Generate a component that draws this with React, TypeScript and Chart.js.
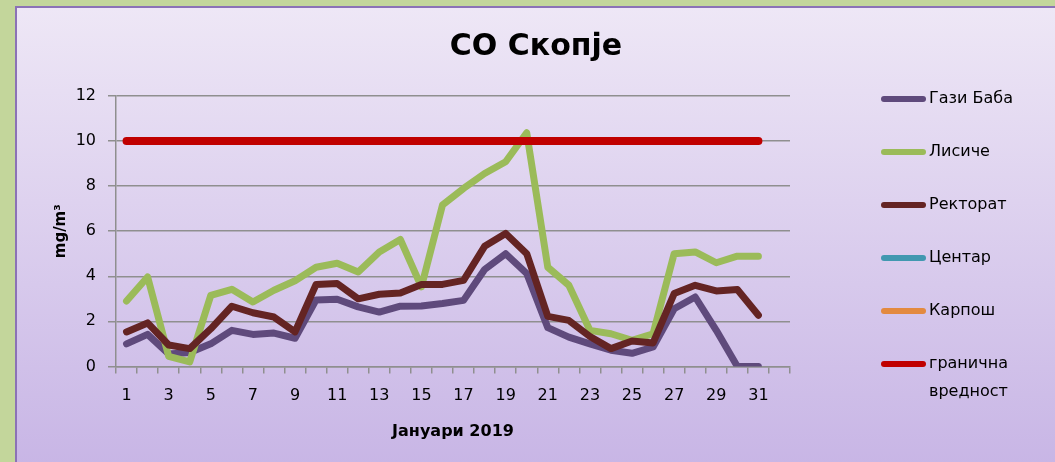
import React, { useEffect, useRef } from 'react';
import { Chart, registerables } from 'chart.js';

Chart.register(...registerables);

const FONT = "'Comic Sans MS', 'DejaVu Sans', sans-serif";

const TITLE = 'СО Скопје';
const X_TITLE = 'Јануари 2019';
const Y_TITLE = 'mg/m³';

const days = ['1', '2', '3', '4', '5', '6', '7', '8', '9', '10', '11', '12', '13', '14', '15', '16',
  '17', '18', '19', '20', '21', '22', '23', '24', '25', '26', '27', '28', '29', '30', '31', ''];

const seriesNames = ['Гази Баба', 'Лисиче', 'Ректорат', 'Центар', 'Карпош', 'гранична вредност'];
const seriesColors = ['#5F4A7C', '#9BBB59', '#642423', '#4198B0', '#E38A3F', '#C00000'];

const gaziBaba = [1.0, 1.42, 0.55, 0.62, 1.0, 1.6, 1.42, 1.48, 1.25, 2.95, 2.98, 2.64, 2.41, 2.67, 2.68, 2.79,
  2.93, 4.3, 5.0, 4.12, 1.72, 1.3, 1.0, 0.72, 0.58, 0.86, 2.56, 3.08, 1.6, 0, 0];
const lisiche = [2.9, 3.97, 0.45, 0.2, 3.15, 3.42, 2.86, 3.38, 3.8, 4.4, 4.58, 4.19, 5.08, 5.63, 3.53, 7.16,
  7.9, 8.56, 9.08, 10.37, 4.4, 3.6, 1.6, 1.45, 1.16, 1.45, 5.0, 5.08, 4.6, 4.89, 4.89];
const rektorat = [1.53, 1.93, 0.95, 0.79, 1.67, 2.67, 2.38, 2.19, 1.53, 3.64, 3.68, 3.0, 3.2, 3.26, 3.63, 3.64,
  3.82, 5.33, 5.9, 5.0, 2.22, 2.04, 1.33, 0.79, 1.13, 1.04, 3.23, 3.6, 3.35, 3.41, 2.27];
const centar: number[] = [];
const karposh: number[] = [];
const limitValue = [10, 10, 10, 10, 10, 10, 10, 10, 10, 10, 10, 10, 10, 10, 10, 10,
  10, 10, 10, 10, 10, 10, 10, 10, 10, 10, 10, 10, 10, 10, 10];

const seriesData = [gaziBaba, lisiche, rektorat, centar, karposh, limitValue];

const overlay = {
  id: 'overlay',
  afterDraw(chart: any) {
    const ctx = chart.ctx as CanvasRenderingContext2D;
    ctx.save();
    ctx.fillStyle = '#000';
    ctx.textAlign = 'center';
    ctx.textBaseline = 'middle';
    ctx.font = `bold 30px ${FONT}`;
    ctx.fillText(TITLE, chart.width / 2, 39);

    ctx.font = `16px ${FONT}`;
    ctx.textAlign = 'left';
    chart.data.datasets.forEach((ds: any, i: number) => {
      const y = 91 + i * 53;
      ctx.strokeStyle = ds.borderColor;
      ctx.lineWidth = 6;
      ctx.lineCap = 'round';
      ctx.beginPath();
      ctx.moveTo(867, y);
      ctx.lineTo(906, y);
      ctx.stroke();
      const label = String(ds.label);
      const lines = ctx.measureText(label).width > 110 ? label.split(' ') : [label];
      ctx.fillStyle = '#000';
      lines.forEach((ln, k) => ctx.fillText(ln, 912, y + k * 28));
    });
    ctx.restore();
  },
};

export default function App() {
  const ref = useRef<HTMLCanvasElement | null>(null);

  useEffect(() => {
    if (!ref.current) return;
    const n = seriesNames.length;
    const chart = new Chart(ref.current, {
      type: 'line',
      data: {
        labels: days,
        datasets: seriesNames.map((name, i) => ({
          label: name,
          data: seriesData[i],
          borderColor: seriesColors[i],
          backgroundColor: seriesColors[i],
          borderWidth: i === n - 1 ? 8 : 7,
          borderCapStyle: 'round',
          borderJoinStyle: 'round',
          pointRadius: 0,
          tension: 0,
          fill: false,
          order: n - i,
        })),
      },
      options: {
        animation: false,
        responsive: true,
        maintainAspectRatio: false,
        layout: { padding: { top: 88, right: 265, bottom: 17, left: 31 } },
        plugins: { legend: { display: false }, tooltip: { enabled: false } },
        scales: {
          x: {
            offset: true,
            grid: { offset: true, drawOnChartArea: false, color: '#8f8f8f', lineWidth: 1.5, tickLength: 7 },
            border: { color: '#8f8f8f', width: 1.5 },
            ticks: {
              autoSkip: false,
              maxRotation: 0,
              padding: 13,
              color: '#000',
              font: { family: FONT, size: 16 },
              callback: (_v: any, i: number) => (i % 2 === 0 ? days[i] : ''),
            },
            title: {
              display: true,
              text: X_TITLE,
              color: '#000',
              font: { family: FONT, size: 16, weight: 'bold' },
              padding: { top: 4, bottom: 4 },
            },
            afterFit: (s: any) => { s.height = 78.6; },
          },
          y: {
            min: 0,
            max: 12,
            ticks: { stepSize: 2, padding: 12, color: '#000', font: { family: FONT, size: 16 } },
            grid: { color: '#8f8f8f', lineWidth: 1.5, tickLength: 8 },
            border: { color: '#8f8f8f', width: 1.5 },
            title: {
              display: true,
              text: Y_TITLE,
              color: '#000',
              font: { family: FONT, size: 15, weight: 'bold' },
              padding: { top: 4, bottom: 4 },
            },
            afterFit: (s: any) => { s.width = 68; },
          },
        },
      } as any,
      plugins: [overlay],
    });
    return () => chart.destroy();
  }, []);

  return (
    <div style={{ position: 'fixed', inset: 0, background: '#C3D69B', overflow: 'hidden' }}>
      <div
        style={{
          position: 'absolute',
          left: 15,
          top: 6,
          width: 1038,
          height: 470,
          border: '2px solid #8B72B6',
          background: 'linear-gradient(#EEE7F6, #C7B4E5)',
        }}
      >
        <div style={{ position: 'relative', width: 1038, height: 454 }}>
          <canvas ref={ref} />
        </div>
      </div>
    </div>
  );
}
